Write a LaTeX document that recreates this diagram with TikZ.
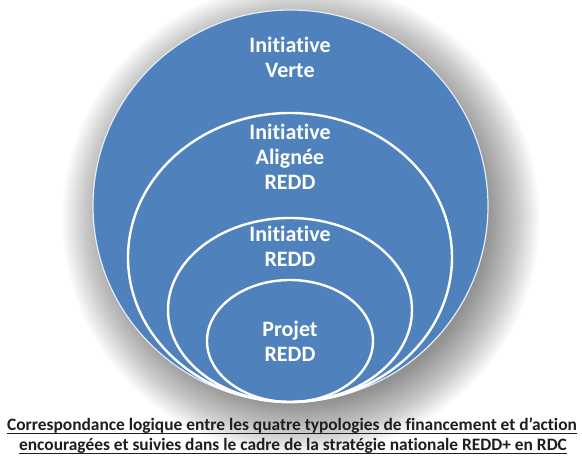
\documentclass[tikz,border=0pt]{standalone}
\usepackage{fontspec}
\setmainfont{Carlito}[RawFeature={-liga}]
\definecolor{ringblue}{RGB}{79,129,189}
\definecolor{captiongray}{RGB}{30,30,30}
\tikzset{
  ring/.style={draw=white, line width=2.4pt},
  ringlabel/.style={text=white, font=\bfseries\fontsize{22}{25}\selectfont, align=center, inner sep=0pt},
  captionline/.style={text=captiongray, font=\bfseries\fontsize{17.4}{20}\selectfont, inner sep=0pt, anchor=base},
  underl/.style={draw=captiongray, line width=1.3pt}
}
\begin{document}
\begin{tikzpicture}[x=1pt,y=-1pt]
\useasboundingbox (0,0) rectangle (582,457);
\fill[white] (0,0) rectangle (582,457);
% soft drop shadow
\foreach \k in {0,...,24}{
  \fill[black,opacity=0.02] (301,219) ellipse ({186+2.2*\k} and {184+2.2*\k});
}
% outer disc
\fill[ringblue] (290.5,206) ellipse (197.5 and 196);
\draw[white!85!ringblue, line width=1.2pt] (290.5,206) ellipse (197.5 and 196);
% inner rings
\draw[ring] (290,257.5) ellipse (162 and 144.5);
\draw[ring] (290,310) ellipse (122 and 92);
\draw[ring] (290,341) ellipse (83 and 61);
% labels
\node[ringlabel] (verte) at (290,57) {Initiative\\Verte};
\node[ringlabel] (alignee) at (290,157) {Initiative\\Alignée\\REDD};
\node[ringlabel] (redd) at (290,246.5) {Initiative\\REDD};
\node[ringlabel] (projet) at (290,341.5) {Projet\\REDD};
% caption
\node[captionline] (cap1) at (292,431) {Correspondance logique entre les quatre typologies de financement et d’action};
\node[captionline] (cap2) at (293,451) {encouragées et suivies dans le cadre de la stratégie nationale REDD+ en RDC};
\draw[underl] ([yshift=-2.6pt]cap1.base west) -- ([yshift=-2.6pt]cap1.base east);
\draw[underl] ([yshift=-2.6pt]cap2.base west) -- ([yshift=-2.6pt]cap2.base east);
\end{tikzpicture}
\end{document}
